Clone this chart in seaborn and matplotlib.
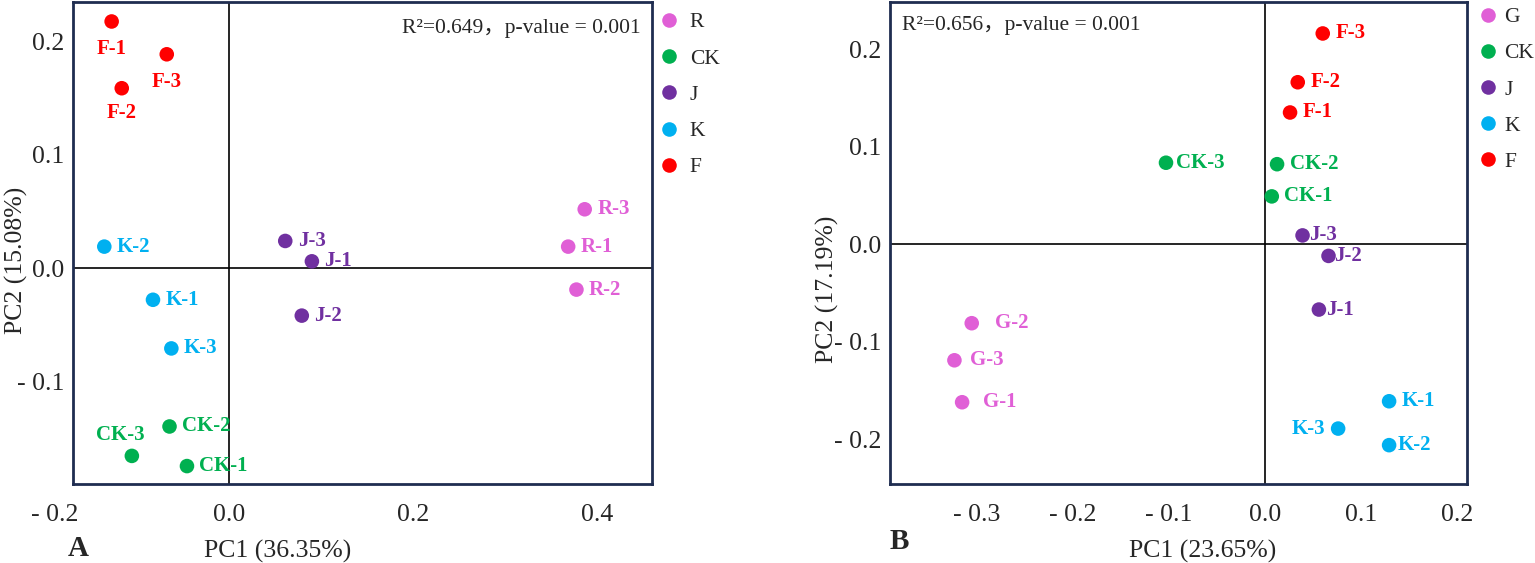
import numpy as np
import pandas as pd
import matplotlib
matplotlib.use('Agg')
import matplotlib.pyplot as plt
import matplotlib.transforms as mtransforms
from matplotlib.ticker import FuncFormatter
import seaborn as sns

# Panel A data
a_samples = ['F-1', 'F-3', 'F-2', 'K-2', 'K-1', 'K-3', 'CK-2', 'CK-3', 'CK-1',
             'J-3', 'J-1', 'J-2', 'R-3', 'R-1', 'R-2']
a_pc1 = [-0.128, -0.068, -0.117, -0.136, -0.083, -0.063, -0.065, -0.106, -0.046,
         0.061, 0.090, 0.079, 0.387, 0.369, 0.378]
a_pc2 = [0.218, 0.189, 0.159, 0.019, -0.028, -0.071, -0.140, -0.166, -0.175,
         0.024, 0.006, -0.042, 0.052, 0.019, -0.019]
a_groups = ['R', 'CK', 'J', 'K', 'F']

# Panel B data
b_samples = ['F-3', 'F-2', 'F-1', 'CK-3', 'CK-2', 'CK-1', 'J-3', 'J-2', 'J-1',
             'G-2', 'G-3', 'G-1', 'K-1', 'K-3', 'K-2']
b_pc1 = [0.060, 0.034, 0.026, -0.103, 0.0125, 0.007, 0.039, 0.066, 0.056,
         -0.305, -0.323, -0.315, 0.129, 0.076, 0.129]
b_pc2 = [0.216, 0.166, 0.135, 0.0835, 0.082, 0.049, 0.009, -0.012, -0.067,
         -0.081, -0.119, -0.162, -0.161, -0.189, -0.206]
b_groups = ['G', 'CK', 'J', 'K', 'F']

stats_a = 'R²=0.649，p-value = 0.001'
stats_b = 'R²=0.656，p-value = 0.001'

colors = {'R': '#E05FD6', 'G': '#E05FD6', 'CK': '#00B050', 'J': '#7030A0',
          'K': '#00B0F0', 'F': '#FF0000'}

# label offsets in points (default: to the right of the dot)
offs_a = {'F-1': (0, -20, 'center'), 'F-3': (0, -20, 'center'), 'F-2': (0, -18, 'center'),
          'CK-3': (-8, 15, 'center')}
offs_b = {'K-3': (-9, 0, 'right'), 'G-2': (17, 0, 'left'), 'G-3': (11, 0, 'left'),
          'G-1': (15, 0, 'left'), 'J-3': (5, 0, 'left'), 'J-2': (4, 0, 'left'),
          'J-1': (5, 0, 'left'), 'CK-3': (7, 0, 'left'), 'K-2': (6, 0, 'left')}

sns.set_style('white')
plt.rcParams['font.family'] = ['Liberation Serif', 'Noto Sans CJK SC']

def fmt(v, pos):
    if abs(v) < 1e-9:
        return '0.0'
    if v < 0:
        return '- %.1f' % abs(v)
    return '%.1f' % v

def make_df(samples, pc1, pc2):
    df = pd.DataFrame({'sample': samples, 'PC1': pc1, 'PC2': pc2})
    df['group'] = df['sample'].str.split('-').str[0]
    return df

fig = plt.figure(figsize=(15.35, 5.63), dpi=100)
axA = fig.add_axes([0.0476, 0.140, 0.377, 0.856])
axB = fig.add_axes([0.5798, 0.140, 0.3759, 0.856])

panels = [
    (axA, make_df(a_samples, a_pc1, a_pc2), a_groups, offs_a,
     (-0.17, 0.46), (-0.191, 0.235), [-0.2, 0.0, 0.2, 0.4], [-0.1, 0.0, 0.1, 0.2],
     'PC1 (36.35%)', 'PC2 (15.08%)', (1.012, 0.979), 0.45),
    (axB, make_df(b_samples, b_pc1, b_pc2), b_groups, offs_b,
     (-0.39, 0.21), (-0.246, 0.248), [-0.3, -0.2, -0.1, 0.0, 0.1, 0.2], [-0.2, -0.1, 0.0, 0.1, 0.2],
     'PC1 (23.65%)', 'PC2 (17.19%)', (1.018, 0.99), 0.25),
]

for ax, df, groups, offs, xl, yl, xt, yt, xlab, ylab, lpos, tpad in panels:
    sns.scatterplot(data=df, x='PC1', y='PC2', hue='group', hue_order=groups,
                    palette=colors, s=110, edgecolor='none', ax=ax, zorder=3)
    ax.axhline(0, color='black', lw=1.2, zorder=1)
    ax.axvline(0, color='black', lw=1.2, zorder=1)
    for _, r in df.iterrows():
        dx, dy, ha = offs.get(r['sample'], (9, 0, 'left'))
        ax.annotate(r['sample'], (r['PC1'], r['PC2']), xytext=(dx, dy),
                    textcoords='offset points', ha=ha, va='center',
                    fontsize=15, fontweight='bold', color=colors[r['group']])
    ax.set_xlim(*xl)
    ax.set_ylim(*yl)
    ax.set_xticks([t for t in xt if xl[0] <= t <= xl[1]])
    ax.set_yticks(yt)
    ax.xaxis.set_major_formatter(FuncFormatter(fmt))
    ax.yaxis.set_major_formatter(FuncFormatter(fmt))
    ax.tick_params(axis='both', length=0, labelsize=18.5)
    ax.tick_params(axis='x', pad=14)
    ax.tick_params(axis='y', pad=6)
    for sp in ax.spines.values():
        sp.set_color('#1F2D50')
        sp.set_linewidth(2)
    ax.set_xlabel(xlab, fontsize=18.5)
    ax.set_ylabel(ylab, fontsize=18.5)
    ax.legend(loc='upper left', bbox_to_anchor=lpos, frameon=False,
              fontsize=15.5, labelspacing=0.75, handletextpad=tpad,
              handlelength=1.0, borderpad=0, borderaxespad=0, title=None)

# tick outside the visible range in panel A
axA.text(-0.19, -0.064, fmt(-0.2, None), fontsize=18.5, ha='center', va='center',
         transform=mtransforms.blended_transform_factory(axA.transData, axA.transAxes),
         clip_on=False)

axA.text(0.98, 0.946, stats_a, transform=axA.transAxes, ha='right', va='center', fontsize=15.5)
axB.text(0.02, 0.952, stats_b, transform=axB.transAxes, ha='left', va='center', fontsize=15.5)

axA.xaxis.set_label_coords(0.354, -0.115)
axB.xaxis.set_label_coords(0.541, -0.115)
axA.yaxis.set_label_coords(-0.078, 0.465)
axB.yaxis.set_label_coords(-0.088, 0.405)

fig.text(68 / 1535, 1 - 556 / 563, 'A', fontsize=21, fontweight='bold', ha='left', va='baseline')
fig.text(890 / 1535, 1 - 549 / 563, 'B', fontsize=21, fontweight='bold', ha='left', va='baseline')

fig.savefig('out.png', dpi=100)
